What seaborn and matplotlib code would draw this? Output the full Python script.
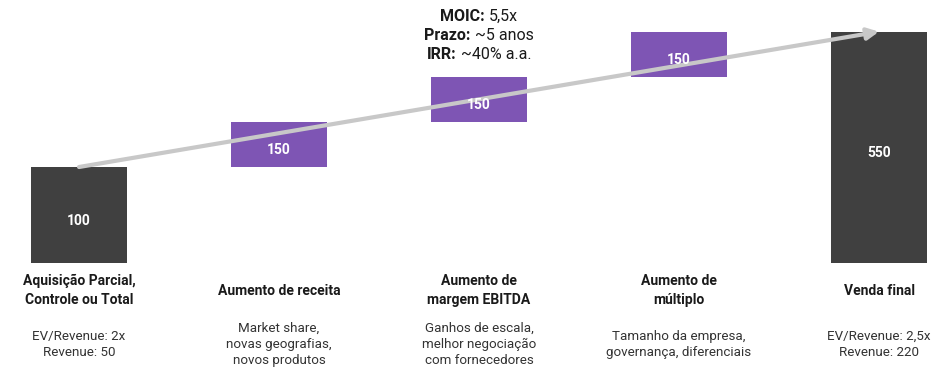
import numpy as np
import pandas as pd
import matplotlib
matplotlib.use('Agg')
import matplotlib.pyplot as plt
from matplotlib.transforms import IdentityTransform
import seaborn as sns

# dados do gráfico
categorias = ['Aquisição Parcial,\nControle ou Total', 'Aumento de receita',
              'Aumento de\nmargem EBITDA', 'Aumento de\nmúltiplo', 'Venda final']
descricoes = ['EV/Revenue: 2x\nRevenue: 50',
              'Market share,\nnovas geografias,\nnovos produtos',
              'Ganhos de escala,\nmelhor negociação\ncom fornecedores',
              'Tamanho da empresa,\ngovernança, diferenciais',
              'EV/Revenue: 2,5x\nRevenue: 220']
rotulos = ['100', '150', '150', '150', '550']
# alturas visuais das barras (o gráfico original não está em escala)
alturas = [100, 47, 47, 47]
cores = ['#404040', '#7e55b4', '#7e55b4', '#7e55b4', '#404040']
destaque_negrito = ['MOIC:', 'Prazo:', 'IRR:']
destaque_normal = ['5,5x', '~5 anos', '~40% a.a.']

sns.set_style('white')
plt.rcParams['font.family'] = ['Roboto', 'DejaVu Sans']

# waterfall: topo e base de cada barra
total = sum(alturas)
topos = list(np.cumsum(alturas)) + [total]
bases = [0] + list(np.cumsum(alturas)[:-1]) + [0]

df = pd.DataFrame({'cat': categorias, 'topo': topos, 'base': bases})

fig = plt.figure(figsize=(9.5, 3.8), dpi=100)
ax = fig.add_axes([0, 0, 1, 1])

sns.barplot(data=df, x='cat', y='topo', hue='cat', palette=cores, legend=False,
            width=0.48, linewidth=0, saturation=1, ax=ax, zorder=1)
sns.barplot(data=df, x='cat', y='base', color='white', width=0.48, linewidth=0,
            saturation=1, ax=ax, zorder=2)

ax.set_xlim(-0.395, 4.355)
ax.set_ylim(-121.9, 274)
ax.axis('off')

# seta de crescimento
ax.annotate('', xy=(4, total), xytext=(0, alturas[0]),
            arrowprops=dict(arrowstyle='-|>', color='#c8c8c8', lw=3,
                            mutation_scale=17, shrinkA=0, shrinkB=0),
            zorder=3)

for i in range(5):
    meio = (topos[i] + bases[i]) / 2
    ax.annotate(rotulos[i], (i, meio), xytext=(0, -4), textcoords='offset points',
                ha='center', va='center', color='white', fontsize=10,
                fontweight='bold', zorder=4)
    ax.text(i, -29, categorias[i], ha='center', va='center', fontsize=10,
            fontweight='bold', color='#1a1a1a', linespacing=1.45)
    ax.text(i, -85, descricoes[i], ha='center', va='center', fontsize=9.6,
            color='#333333', linespacing=1.3)

# MOIC / Prazo / IRR com parte em negrito
renderer = fig.canvas.get_renderer()
for k in range(3):
    cx, cy = ax.transData.transform((2, 257 - k * 19.8))
    tb = fig.text(0, 0, destaque_negrito[k], fontsize=11.5, fontweight='bold',
                  color='#1a1a1a', va='center', ha='left', transform=IdentityTransform())
    tn = fig.text(0, 0, destaque_normal[k], fontsize=11.5, color='#1a1a1a',
                  va='center', ha='left', transform=IdentityTransform())
    wb = tb.get_window_extent(renderer).width
    wn = tn.get_window_extent(renderer).width
    gap = 4
    x0 = cx - (wb + gap + wn) / 2
    tb.set_position((x0, cy))
    tn.set_position((x0 + wb + gap, cy))

fig.savefig('out.png', dpi=100)
